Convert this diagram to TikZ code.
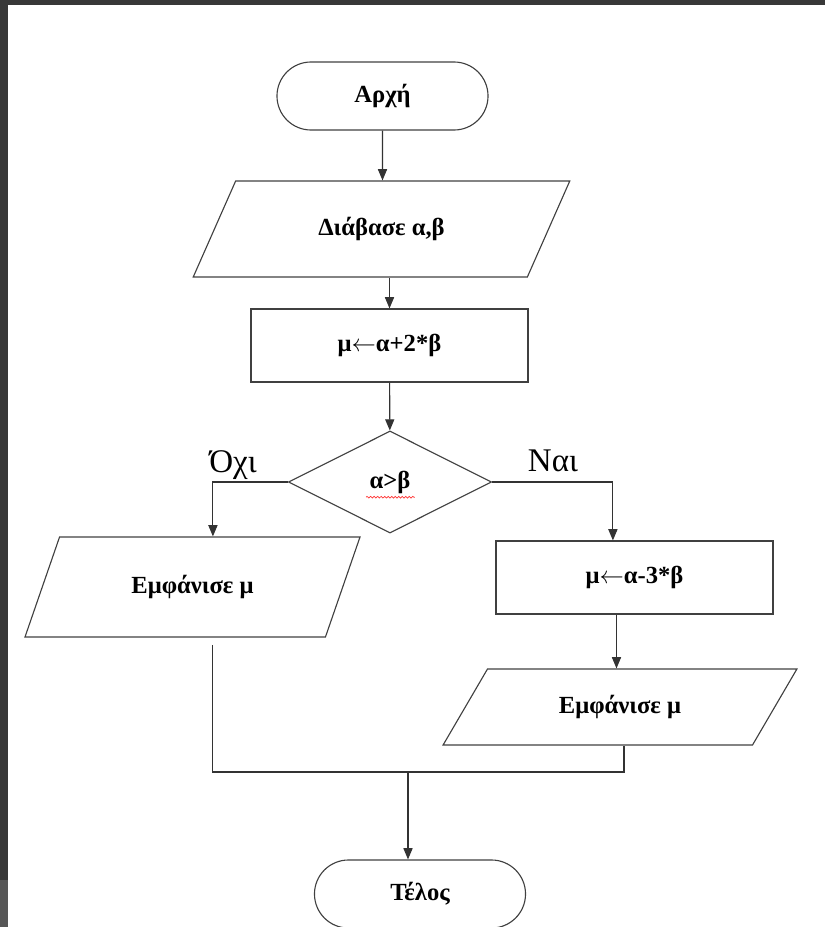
\documentclass[tikz,border=0pt]{standalone}
\usepackage{fontspec}
\setmainfont{Liberation Serif}
\usetikzlibrary{shapes.geometric,shapes.misc,arrows.meta,decorations.pathmorphing}

\begin{document}
\begin{tikzpicture}[x=0.025cm,y=-0.025cm]
			\tikzstyle{terminal} = [rounded rectangle, minimum width=5.275cm, minimum height=1.7cm, draw=black!75, line width=0.8pt, inner sep=0pt, font=\fontsize{17.5}{20}\selectfont\bfseries]
			\tikzstyle{io} = [trapezium, trapezium stretches=true, draw=black!75, line width=0.8pt, inner sep=0pt, font=\fontsize{17.5}{20}\selectfont\bfseries]
			\tikzstyle{process} = [rectangle, minimum width=6.925cm, minimum height=1.825cm, draw=black!75, line width=0.8pt, font=\fontsize{17.5}{20}\selectfont\bfseries]
			\tikzstyle{decision} = [diamond, aspect=2, minimum width=5.075cm, minimum height=2.55cm, draw=black!75, line width=0.8pt, inner sep=0pt, font=\fontsize{17.5}{20}\selectfont\bfseries]
			\tikzstyle{branch} = [font=\fontsize{23.5}{26}\selectfont]
			\tikzstyle{arrow} = [-{Triangle[length=8pt,width=6.5pt]}, draw=black!80, line width=0.8pt]
			\tikzstyle{line} = [draw=black!80, line width=0.8pt]
			
			\useasboundingbox (0,0) rectangle (825,927);
			\fill[black!78] (0,0) rectangle (825,5);
			\fill[black!78] (0,0) rectangle (8,880);
			\fill[black!66] (0,880) rectangle (8,927);
			
			\node (start) [terminal] at (382.5,96) {Αρχή};
			\node (read) [io, trapezium left angle=52, trapezium right angle=128, minimum width=9.425cm, minimum height=2.4cm] at (381.5,229) {Διάβασε α,β};
			\node (calc1) [process] at (389.5,345.5) {μ$\leftarrow$α+2*β};
			\node (cond) [decision] at (390,482) {α>β};
			
			\node (no) [branch] at (233,465) {Όχι};
			\node (yes) [branch] at (553,461) {Ναι};
			
			\node (out1) [io, trapezium left angle=56, trapezium right angle=124, minimum width=8.375cm, minimum height=2.5cm] at (192.5,587) {Εμφάνισε μ};
			\node (calc2) [process] at (634.5,577.5) {μ$\leftarrow$α-3*β};
			\node (out2) [io, trapezium left angle=49, trapezium right angle=131, minimum width=8.85cm, minimum height=1.9cm] at (620,707) {Εμφάνισε μ};
			
			\node (end) [terminal] at (420,894) {Τέλος};
			\coordinate (join) at (408,772);
			
			\draw[arrow] (start) -- (start |- read.north);
			\draw[arrow] (calc1 |- read.south) -- (calc1.north);
			\draw[arrow] (calc1) -- (cond);
			\draw[arrow] (cond.west) -| ([xshift=0.51cm]out1.north);
			\draw[arrow] (cond.east) -| ([xshift=-0.54cm]calc2.north);
			\draw[arrow] ([xshift=-0.45cm]calc2.south) -- ([xshift=-0.45cm]calc2.south |- out2.north);
			\draw[line] ([xshift=0.51cm,yshift=-0.18cm]out1.south) |- (join) -| ([xshift=0.1cm]out2.south);
			\draw[arrow] (join) -- (join |- end.north);
			
			\draw[red!80, line width=0.5pt, decorate, decoration={snake, amplitude=0.6pt, segment length=2.5pt}] ([xshift=-0.6cm,yshift=-0.38cm]cond.center) -- ([xshift=0.62cm,yshift=-0.38cm]cond.center);
			
	\end{tikzpicture}
\end{document}
